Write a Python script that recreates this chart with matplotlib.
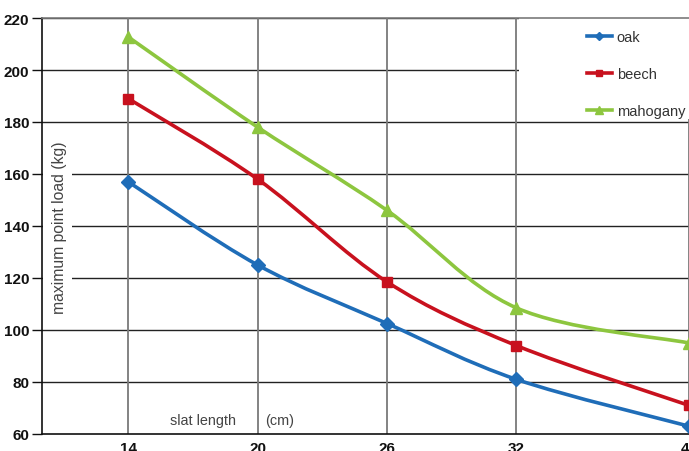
import matplotlib
matplotlib.use("Agg")
import matplotlib.pyplot as plt
from matplotlib.path import Path
from matplotlib.patches import PathPatch, Rectangle
from matplotlib.lines import Line2D

slat_length = [14, 20, 26, 32, 40]
oak = [157, 125, 102.5, 81, 63]
beech = [189, 158, 118.5, 94, 71]
mahogany = [212.7, 178, 146, 108.5, 95]
series_names = ["oak", "beech", "mahogany"]
x_ticks = [14, 20, 26, 32, 40]
y_ticks = [60, 80, 100, 120, 140, 160, 180, 200, 220]

colors = ["#1f6db8", "#c8111e", "#8dc63f"]
markers = ["D", "s", "^"]
msizes = [7, 7.5, 9]

plt.rcParams['font.family'] = ['Liberation Sans', 'DejaVu Sans']

fig = plt.figure(figsize=(6.89, 4.52), dpi=100)
ax = fig.add_axes([42/689, 17/452, 647/689, 416/452])
ax.set_xlim(10, 40)
ax.set_ylim(60, 220)


def smooth_path(xs, ys):
    pts = list(zip(xs, ys))
    verts = [pts[0]]
    codes = [Path.MOVETO]
    n = len(pts)
    for i in range(n - 1):
        p0 = pts[i - 1] if i > 0 else pts[i]
        p1 = pts[i]
        p2 = pts[i + 1]
        p3 = pts[i + 2] if i + 2 < n else pts[i + 1]
        c1 = (p1[0] + (p2[0] - p0[0]) / 6, p1[1] + (p2[1] - p0[1]) / 6)
        c2 = (p2[0] - (p3[0] - p1[0]) / 6, p2[1] - (p3[1] - p1[1]) / 6)
        verts += [c1, c2, p2]
        codes += [Path.CURVE4] * 3
    return Path(verts, codes)


# grid lines
for y in y_ticks[1:]:
    ax.axhline(y, color="#222222", lw=1.0, zorder=0.5)
for x in x_ticks:
    ax.axvline(x, color="#7a7a7a", lw=1.3, zorder=0.6)

# white areas hiding grid behind legend and y label
ax.add_patch(Rectangle((32.12, 181), 10, 40, facecolor="white", edgecolor="none", zorder=0.8))
ax.add_patch(Rectangle((10.05, 110), 1.35, 60, facecolor="white", edgecolor="none", zorder=0.8))

handles = []
for name, vals, c, m, ms in zip(series_names, [oak, beech, mahogany], colors, markers, msizes):
    ax.add_patch(PathPatch(smooth_path(slat_length, vals), facecolor="none", edgecolor=c,
                           lw=2.6, zorder=3, capstyle="round", joinstyle="round"))
    ax.plot(slat_length, vals, linestyle="none", marker=m, markersize=ms, color=c,
            markeredgecolor=c, zorder=4, clip_on=False)
    handles.append(Line2D([], [], color=c, lw=2.6, marker=m, markersize=ms * 0.65, markeredgecolor=c))

leg = ax.legend(handles, series_names, loc="upper left", bbox_to_anchor=(0.842, 0.97),
                frameon=False, fontsize=10.5, handlelength=1.7, handletextpad=0.35,
                labelspacing=1.55, borderaxespad=0, borderpad=0)
for t in leg.get_texts():
    t.set_color("#333333")

ax.set_xticks(x_ticks)
ax.set_yticks(y_ticks)
ax.set_xticklabels([str(v) for v in x_ticks])
ax.set_yticklabels([str(v) for v in y_ticks])
ax.tick_params(axis="y", direction="out", length=7, width=1, pad=2, labelsize=11, colors="#111111")
ax.tick_params(axis="x", length=0, pad=5, labelsize=11, colors="#111111")
for lab in ax.get_xticklabels() + ax.get_yticklabels():
    lab.set_fontweight("bold")

for side in ["left", "bottom"]:
    ax.spines[side].set_color("#111111")
    ax.spines[side].set_linewidth(1.2)
ax.spines["top"].set_color("#7a7a7a")
ax.spines["top"].set_linewidth(1.2)
ax.spines["right"].set_visible(False)

ax.text(10.83, 139.6, "maximum point load (kg)", rotation=90, ha="center", va="center",
        fontsize=11.3, color="#444444", zorder=1)
ax.text(17.45, 65.5, "slat length", ha="center", va="center", fontsize=10.4, color="#444444")
ax.text(21.0, 65.5, "(cm)", ha="center", va="center", fontsize=10.4, color="#444444")

fig.savefig("out.png", dpi=100)
